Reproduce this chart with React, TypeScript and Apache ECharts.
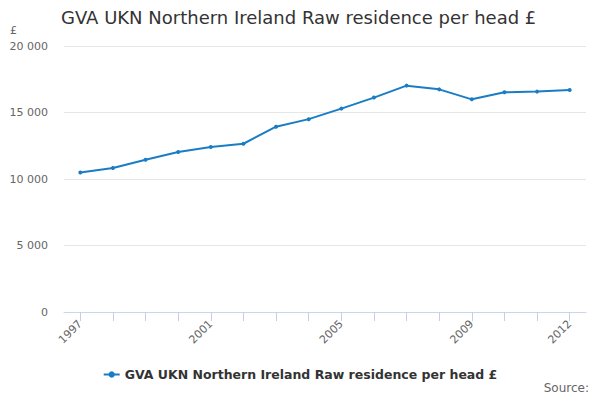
import React, { useEffect, useRef } from "react";
import * as echarts from "echarts";

const years = ["1997","1998","1999","2000","2001","2002","2003","2004","2005","2006","2007","2008","2009","2010","2011","2012"];
const values = [10490, 10830, 11450, 12030, 12400, 12650, 13930, 14500, 15290, 16120, 17020, 16740, 15990, 16520, 16570, 16690];
const seriesName = "GVA UKN Northern Ireland Raw residence per head £";
const titleText = "GVA UKN Northern Ireland Raw residence per head £";

const FONT = "DejaVu Sans";

export default function App() {
  const ref = useRef<HTMLDivElement>(null);
  useEffect(() => {
    if (!ref.current) return;
    const chart = echarts.init(ref.current, undefined, { renderer: "svg" });
    chart.setOption({
      animation: false,
      textStyle: { fontFamily: FONT },
      title: {
        text: titleText,
        left: 56,
        top: 3,
        textStyle: { fontFamily: FONT, fontSize: 18, fontWeight: "normal", color: "#333333" },
      },
      graphic: [
        {
          type: "text",
          right: 11,
          top: 382,
          style: { text: "Source:", fontFamily: FONT, fontSize: 12, fill: "#666666" },
        },
      ],
      legend: {
        bottom: 14,
        left: "center",
        itemWidth: 16,
        itemHeight: 8,
        itemGap: 10,
        data: [seriesName],
        textStyle: { fontFamily: FONT, fontSize: 12.5, fontWeight: "bold", color: "#333333" },
      },
      grid: { left: 64, right: 14, top: 46, bottom: 88, containLabel: false },
      xAxis: {
        type: "category",
        data: years,
        boundaryGap: true,
        axisLine: { lineStyle: { color: "#ccd6eb" } },
        axisTick: {
          show: true,
          alignWithLabel: true,
          interval: 0,
          length: 9,
          lineStyle: { color: "#c5d0e6" },
        },
        axisLabel: {
          interval: (i: number) => i % 4 === 0 || i === years.length - 1,
          rotate: 45,
          color: "#666666",
          fontSize: 11,
          fontFamily: FONT,
          margin: 10,
        },
      },
      yAxis: {
        type: "value",
        min: 0,
        max: 20000,
        interval: 5000,
        name: "£",
        nameLocation: "end",
        nameGap: 10,
        nameTextStyle: { color: "#666666", fontSize: 11, fontFamily: FONT, align: "right", padding: [0, 47, 0, 0] },
        axisLine: { show: false },
        axisTick: { show: false },
        splitLine: { lineStyle: { color: "#e6e6e6" } },
        axisLabel: {
          color: "#666666",
          fontSize: 11,
          fontFamily: FONT,
          margin: 16,
          formatter: (v: number) => String(v).replace(/\B(?=(\d{3})+(?!\d))/g, " "),
        },
      },
      series: [
        {
          name: seriesName,
          type: "line",
          data: values,
          symbol: "circle",
          symbolSize: 4,
          itemStyle: { color: "#1a7dc4" },
          lineStyle: { color: "#1a7dc4", width: 2 },
        },
      ],
    });
    return () => chart.dispose();
  }, []);
  return <div ref={ref} style={{ width: 600, height: 400, margin: -8 }} />;
}
